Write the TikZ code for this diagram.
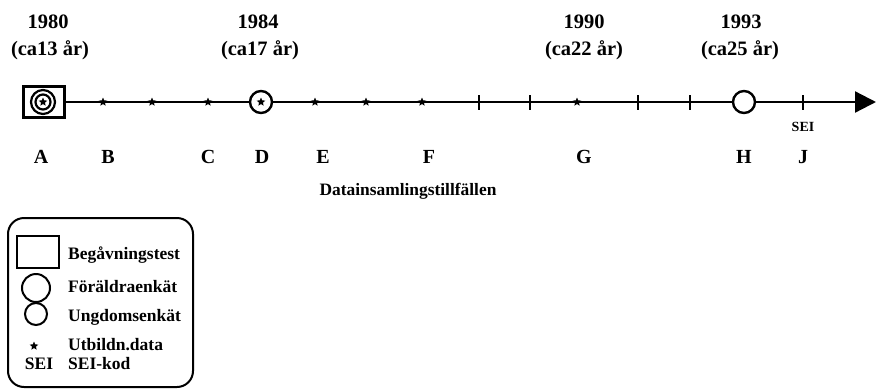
\documentclass[tikz,border=0pt]{standalone}
\usepackage{fontspec}
\setmainfont{Liberation Serif}
\usetikzlibrary{shapes.geometric,arrows.meta}
\begin{document}
\begin{tikzpicture}[x=1pt,y=-1pt,
  yeartext/.style={font=\bfseries\fontsize{20.5}{24}\selectfont, inner sep=0},
  lettertext/.style={font=\bfseries\fontsize{20}{24}\selectfont, inner sep=0},
  legtext/.style={font=\bfseries\fontsize{17.5}{20}\selectfont, inner sep=0, anchor=west},
  smalltext/.style={font=\bfseries\fontsize{14}{16}\selectfont, inner sep=0},
  datastar/.style={star, star points=5, star point ratio=2.2, fill=black, draw=none, minimum size=9pt, inner sep=0},
  tickmark/.style={rectangle, fill=black, draw=none, minimum width=2.5pt, minimum height=15pt, inner sep=0},
  bigcirc/.style={circle, draw=black, line width=2.4pt, fill=white, minimum size=22pt, inner sep=0},
  testbox/.style={rectangle, draw=black, line width=2.4pt, fill=white, minimum width=41pt, minimum height=31pt, inner sep=0},
  axis/.style={line width=2.3pt, -{Triangle[length=21pt,width=21pt]}},
]
\useasboundingbox (0,0) rectangle (876,389);
% years
\node[yeartext] (y1980) at (48,22) {1980};
\node[yeartext] (a1980) at (50,50) {(ca13 år)};
\node[yeartext] (y1984) at (258,22) {1984};
\node[yeartext] (a1984) at (260,50) {(ca17 år)};
\node[yeartext] (y1990) at (584,22) {1990};
\node[yeartext] (a1990) at (584,50) {(ca22 år)};
\node[yeartext] (y1993) at (741,22) {1993};
\node[yeartext] (a1993) at (740,50) {(ca25 år)};
% axis
\node[testbox] (A) at (44,102) {};
\coordinate (axend) at (876,102);
\draw[axis] (A.east) -- (axend);
\node[circle, draw=black, line width=2.2pt, minimum size=24pt, inner sep=0] (Aouter) at (43,102) {};
\node[circle, draw=black, line width=2.2pt, minimum size=15pt, inner sep=0] (Ainner) at (43,102) {};
\node[datastar] (Astar) at (43,102) {};
\node[datastar] (s1) at (103,102) {};
\node[datastar] (s2) at (152,102) {};
\node[datastar] (s3) at (208,102) {};
\node[bigcirc] (D) at (261,102) {};
\node[datastar] (Dstar) at (261,102) {};
\node[datastar] (s4) at (315,102) {};
\node[datastar] (s5) at (366,102) {};
\node[datastar] (s6) at (422,102) {};
\node[tickmark] (t1) at (479,102) {};
\node[tickmark] (t2) at (530,102) {};
\node[datastar] (s7) at (577,102) {};
\node[tickmark] (t3) at (638,102) {};
\node[tickmark] (t4) at (690,102) {};
\node[bigcirc] (H) at (744,102) {};
\node[tickmark] (t5) at (803,102) {};
\node[smalltext] (sei) at (803,127) {SEI};
% letters
\node[lettertext] (lA) at (41,157) {A};
\node[lettertext] (lB) at (108,157) {B};
\node[lettertext] (lC) at (208,157) {C};
\node[lettertext] (lD) at (262,157) {D};
\node[lettertext] (lE) at (323,157) {E};
\node[lettertext] (lF) at (429,157) {F};
\node[lettertext] (lG) at (584,157) {G};
\node[lettertext] (lH) at (744,157) {H};
\node[lettertext] (lJ) at (803,157) {J};
\node[font=\bfseries\fontsize{17.4}{20}\selectfont, inner sep=0] (dt) at (408,191) {Datainsamlingstillfällen};
% legend
\node[draw=black, line width=2pt, rounded corners=16pt, minimum width=185pt, minimum height=169pt, inner sep=0] (legend) at (100.5,302.5) {};
\node[rectangle, draw=black, line width=2pt, minimum width=42pt, minimum height=32pt, inner sep=0] (kbox) at (38,252) {};
\node[legtext] (kboxt) at (68,255) {Begåvningstest};
\node[circle, draw=black, line width=2pt, minimum size=28pt, inner sep=0] (kbig) at (36,288) {};
\node[legtext] (kbigt) at (68,287) {Föräldraenkät};
\node[circle, draw=black, line width=2pt, minimum size=22pt, inner sep=0] (ksmall) at (36,314) {};
\node[legtext] (ksmallt) at (68,317) {Ungdomsenkät};
\node[datastar] (kstar) at (34,346) {};
\node[legtext] (kstart) at (68,345) {Utbildn.data};
\node[font=\bfseries\fontsize{17.5}{20}\selectfont, inner sep=0] (ksei) at (39,364) {SEI};
\node[legtext] (kseit) at (68,364) {SEI-kod};
\end{tikzpicture}
\end{document}
